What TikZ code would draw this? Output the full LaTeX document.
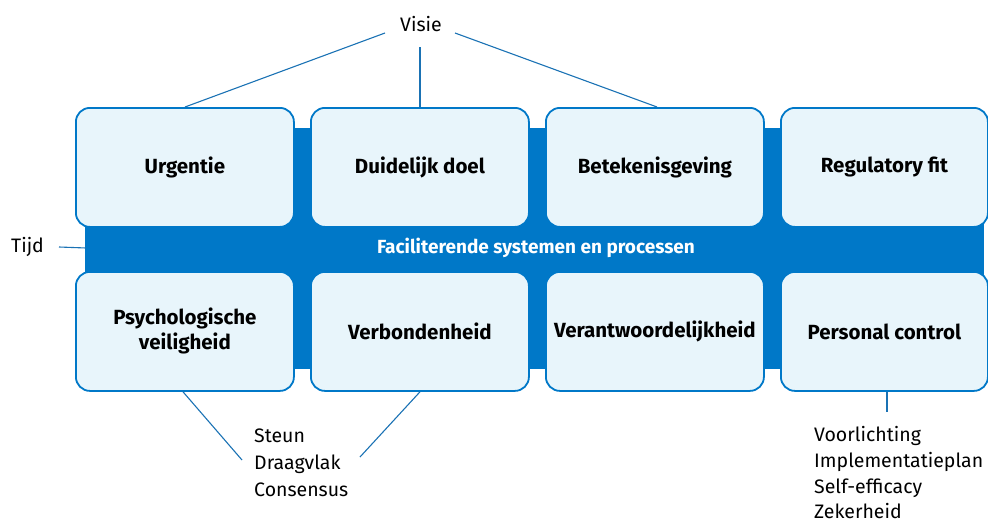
\documentclass[tikz,border=0pt]{standalone}
\usepackage{fontspec}
\setmainfont{Fira Sans}
\definecolor{bandblue}{HTML}{0078C8}
\definecolor{boxfill}{HTML}{E8F5FB}
\definecolor{linkblue}{HTML}{1A72B4}
\tikzset{
  box/.style={draw=bandblue, line width=1.8pt, fill=boxfill, rounded corners=14pt,
    minimum width=218pt, minimum height=119pt, inner sep=0pt, align=center,
    font=\fontsize{20.5}{25}\selectfont\bfseries, text=black, anchor=north west},
  lbl/.style={font=\fontsize{19.5}{24}\selectfont, text=black, inner sep=0pt},
  item/.style={lbl, anchor=base west},
  link/.style={draw=linkblue, line width=1.1pt}
}
\begin{document}
\begin{tikzpicture}[x=1pt,y=-1pt]
\useasboundingbox (0,0) rectangle (988,522);
\fill[bandblue] (85,128) rectangle (984,369);
\node[font=\fontsize{19}{22}\selectfont\bfseries, text=white] (band) at (536,248) {Faciliterende systemen en processen};
% top row
\node[box] (b1) at (75,107) {Urgentie};
\node[box] (b2) at (310,107) {Duidelijk doel};
\node[box] (b3) at (545,107) {Betekenisgeving};
\node[box, minimum width=207pt] (b4) at (780,107) {Regulatory fit};
% bottom row
\node[box] (c1) at (75,271) {Psychologische\\veiligheid};
\node[box] (c2) at (310,271) {Verbondenheid};
\node[box] (c3) at (545,271) {Verantwoordelijkheid};
\node[box, minimum width=207pt] (c4) at (780,271) {Personal control};
% labels
\node[lbl] (visie) at (421,24) {Visie};
\node[lbl, anchor=west] (tijd) at (11,247) {Tijd};
\node[item] (steun) at (254,442) {Steun};
\node[item] (draag) at (254,469) {Draagvlak};
\node[item] (cons) at (254,496) {Consensus};
\node[item] (voor) at (814,441) {Voorlichting};
\node[item] (impl) at (814,467.5) {Implementatieplan};
\node[item] (self) at (814,493.5) {Self-efficacy};
\node[item] (zek) at (814,518.5) {Zekerheid};
% coordinates
\coordinate (v1) at (385,33);
\coordinate (v2) at (420,47);
\coordinate (v3) at (455,33);
\coordinate (t1) at (59,247);
\coordinate (s1) at (242,460);
\coordinate (s2) at (360,457);
\coordinate (p1) at (887,412);
% connectors
\draw[link] (v1) -- (b1.north -| 185,0);
\draw[link] (v2) -- (b2.north -| 420,0);
\draw[link] (v3) -- (b3.north -| 657,0);
\draw[link] (t1) -- (band.west -| 86,0);
\draw[link] (c1.south -| 183,0) -- (s1);
\draw[link] (c2.south -| 420,0) -- (s2);
\draw[link] (c4.south -| 887,0) -- (p1);
\end{tikzpicture}
\end{document}
